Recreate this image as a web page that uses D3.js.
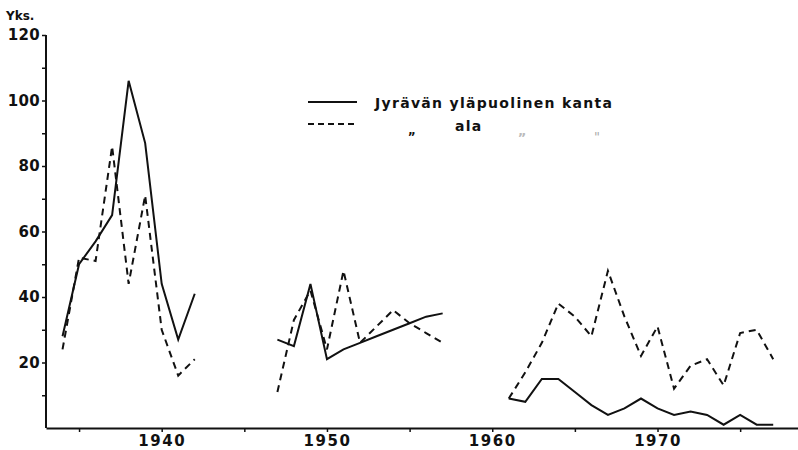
<!DOCTYPE html>
<html>
<head>
<meta charset="utf-8">
<script src="https://cdn.jsdelivr.net/npm/d3@7"></script>
<style>
  body { margin: 0; background: #fff; }
  svg { display: block; }
  text { font-family: "DejaVu Sans", sans-serif; fill: #111; }
</style>
</head>
<body>
<figure id="chart" style="margin:0"></figure>
<script>
// years 1934-1977, null where no count exists
const years = [1934, 1935, 1936, 1937, 1938, 1939, 1940, 1941, 1942, 1943, 1944,
  1945, 1946, 1947, 1948, 1949, 1950, 1951, 1952, 1953, 1954, 1955, 1956, 1957,
  1958, 1959, 1960, 1961, 1962, 1963, 1964, 1965, 1966, 1967, 1968, 1969, 1970,
  1971, 1972, 1973, 1974, 1975, 1976, 1977];

// Jyrävän yläpuolinen kanta (solid)
const upperStock = [28, 50, 57, 65, 106, 87, 44, 27, 41, null, null,
  null, null, 27, 25, 44, 21, 24, 26, 28, 30, 32, 34, 35,
  null, null, null, 9, 8, 15, 15, 11, 7, 4, 6, 9, 6,
  4, 5, 4, 1, 4, 1, 1];

// " ala " " (dashed)
const lowerStock = [24, 52, 51, 86, 44, 71, 30, 16, 21, null, null,
  null, null, 11, 33, 42, 24, 48, 26, 31, 36, 32, 29, 26,
  null, null, null, 9, 17, 26, 38, 34, 28, 48, 34, 22, 31,
  12, 19, 21, 13, 29, 30, 21];

const yTicks = [10, 20, 30, 40, 50, 60, 70, 80, 90, 100, 110, 120];
const xTicks = [1935, 1940, 1945, 1950, 1955, 1960, 1965, 1970, 1975];

const width = 798, height = 450;
const margin = { top: 35, right: 0, bottom: 22, left: 46 };

const svg = d3.select("figure#chart").append("svg")
  .attr("width", width)
  .attr("height", height);

const x = d3.scaleLinear()
  .domain([1933, 1978.5])
  .range([margin.left, width - margin.right]);

const y = d3.scaleLinear()
  .domain([0, 120])
  .range([height - margin.bottom, margin.top]);

// y axis
const yAxis = svg.append("g")
  .attr("transform", `translate(${margin.left},0)`)
  .call(d3.axisLeft(y)
    .tickValues(yTicks)
    .tickSize(4)
    .tickSizeOuter(0)
    .tickFormat(d => d % 20 === 0 ? d : ""));
yAxis.select(".domain").attr("stroke", "#111").attr("stroke-width", 2)
  .attr("d", `M0,${y(0)}V${y(120)}`);
yAxis.selectAll(".tick line").attr("stroke", "#111").attr("stroke-width", 1.5);
yAxis.selectAll(".tick text")
  .attr("x", -6)
  .style("font-size", "15px")
  .style("font-weight", "bold")
  .style("letter-spacing", "0.3px")
  .attr("fill", "#111");

// x axis
const xAxis = svg.append("g")
  .attr("transform", `translate(0,${y(0)})`)
  .call(d3.axisBottom(x)
    .tickValues(xTicks)
    .tickSize(4)
    .tickSizeOuter(0)
    .tickFormat(d => d % 10 === 0 ? d : ""));
xAxis.select(".domain").attr("stroke", "#111").attr("stroke-width", 2);
xAxis.selectAll(".tick line").attr("stroke", "#111").attr("stroke-width", 1.5);
xAxis.selectAll(".tick text")
  .attr("y", 7)
  .style("font-size", "15px")
  .style("font-weight", "bold")
  .style("letter-spacing", "1.5px")
  .attr("fill", "#111");

svg.append("text")
  .attr("x", 6)
  .attr("y", 20)
  .style("font-size", "12px")
  .style("font-weight", "bold")
  .text("Yks.");

const line = d3.line()
  .defined(d => d.value !== null)
  .x(d => x(d.year))
  .y(d => y(d.value));

const series = [
  { name: "upper", values: upperStock, dash: null },
  { name: "lower", values: lowerStock, dash: "7,5" }
];

series.forEach(s => {
  svg.append("path")
    .datum(years.map((yr, i) => ({ year: yr, value: s.values[i] })))
    .attr("fill", "none")
    .attr("stroke", "#111")
    .attr("stroke-width", 2)
    .attr("stroke-linejoin", "miter")
    .attr("stroke-dasharray", s.dash)
    .attr("d", line);
});

// legend
const legend = svg.append("g");
legend.append("line")
  .attr("x1", 308).attr("x2", 357).attr("y1", 102).attr("y2", 102)
  .attr("stroke", "#111").attr("stroke-width", 2);
legend.append("line")
  .attr("x1", 308).attr("x2", 357).attr("y1", 124).attr("y2", 124)
  .attr("stroke", "#111").attr("stroke-width", 2)
  .attr("stroke-dasharray", "6,4");
legend.append("text")
  .attr("x", 375).attr("y", 108)
  .style("font-size", "14px")
  .style("font-weight", "bold")
  .style("letter-spacing", "1.3px")
  .text("Jyrävän yläpuolinen kanta");
legend.append("text")
  .attr("x", 408).attr("y", 134)
  .style("font-size", "12px")
  .style("font-weight", "bold")
  .text("„");
legend.append("text")
  .attr("x", 455).attr("y", 131)
  .style("font-size", "14px")
  .style("font-weight", "bold")
  .style("letter-spacing", "1.3px")
  .text("ala");
legend.append("text")
  .attr("x", 518).attr("y", 135)
  .style("font-size", "13px")
  .style("font-weight", "bold")
  .style("fill", "#bbb")
  .text("„");
legend.append("text")
  .attr("x", 594).attr("y", 141)
  .style("font-size", "13px")
  .style("fill", "#aaa")
  .text("\"");
</script>
</body>
</html>
